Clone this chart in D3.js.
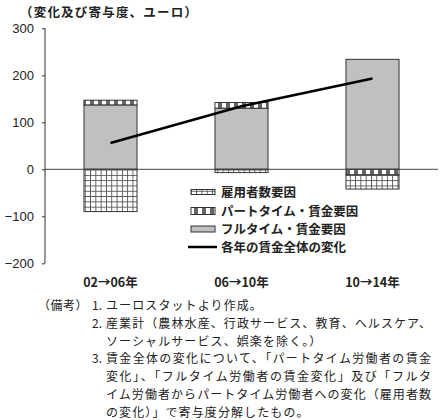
<!DOCTYPE html>
<html><head><meta charset="utf-8">
<script src="https://cdn.jsdelivr.net/npm/d3@7"></script>
<style>body{margin:0;background:#fff}svg{display:block}</style>
</head><body>
<script>
const categories = ["02→06年", "06→10年", "10→14年"];
const fullTime = [137, 130, 234];
const partTime = [10, 12, -12];
const employment = [-90, -7, -30];
const totalChange = [56, 134, 193];
const yTicks = [300, 200, 100, 0, -100, -200];
const legendLabels = ["雇用者数要因", "パートタイム・賃金要因", "フルタイム・賃金要因", "各年の賃金全体の変化"];
const titleText = "（変化及び寄与度、ユーロ）";
const notes = [
  {lead: "（備考）", num: "1.", text: "ユーロスタットより作成。", full: false},
  {lead: "", num: "2.", text: "産業計（農林水産、行政サービス、教育、ヘルスケア、", full: true},
  {lead: "", num: "", text: "ソーシャルサービス、娯楽を除く。）", full: false},
  {lead: "", num: "3.", text: "賃金全体の変化について、「パートタイム労働者の賃金", full: true},
  {lead: "", num: "", text: "変化」、「フルタイム労働者の賃金変化」及び「フルタ", full: true},
  {lead: "", num: "", text: "イム労働者からパートタイム労働者への変化（雇用者数", full: true},
  {lead: "", num: "", text: "の変化）」で寄与度分解したもの。", full: false}
];

const W = 442, H = 420;
const svg = d3.select("body").append("svg").attr("width", W).attr("height", H);
const defs = svg.append("defs");
const pg = defs.append("pattern").attr("id","grid").attr("patternUnits","userSpaceOnUse")
  .attr("width",5.3).attr("height",5.3);
pg.append("rect").attr("width",5.3).attr("height",5.3).attr("fill","#fff");
pg.append("path").attr("d","M0,0.4H5.3M0.4,0V5.3").attr("stroke","#555").attr("stroke-width",1);
const pp = defs.append("pattern").attr("id","part").attr("patternUnits","userSpaceOnUse")
  .attr("width",8).attr("height",3);
pp.append("rect").attr("width",8).attr("height",3).attr("fill","#fff");
pp.append("rect").attr("x",2).attr("width",4).attr("height",3).attr("fill","#666");

const font = "'Noto Sans CJK JP', sans-serif";
const y = d3.scaleLinear().domain([-200, 300]).range([263.3, 28.3]);
const x = d3.scaleBand().domain(categories).range([45, 438]).paddingInner(0.595).paddingOuter(0.2975);

svg.append("text").attr("x", 20).attr("y", 17).attr("font-family", font).attr("font-size", 12.5)
  .attr("font-weight", "bold").attr("fill", "#222").attr("letter-spacing", 1.2).text(titleText);

const yAxis = svg.append("g").attr("transform", "translate(45,0)")
  .call(d3.axisLeft(y).tickValues(yTicks).tickSize(3).tickFormat(d3.format("d")));
yAxis.select(".domain").attr("stroke", "#333").attr("d", `M0,${y(300)}V${y(-200)}`);
yAxis.selectAll(".tick line").attr("stroke", "#333");
yAxis.selectAll(".tick text").attr("font-family", "'Liberation Sans', Arial, sans-serif")
  .attr("font-size", 13).attr("fill", "#222").attr("x", -11).text(d => d < 0 ? "−" + Math.abs(d) : d);

const segs = [];
categories.forEach((c, i) => {
  let pos = 0, neg = 0;
  [[fullTime[i], "full"], [partTime[i], "part"], [employment[i], "emp"]].forEach(([v, k]) => {
    if (v >= 0) { segs.push({c, k, y0: pos, y1: pos + v}); pos += v; }
    else { segs.push({c, k, y0: neg + v, y1: neg}); neg += v; }
  });
});
const fillOf = {full: "#c0c0c0", part: "url(#part)", emp: "url(#grid)"};
svg.append("g").selectAll("rect").data(segs.filter(s => s.y1 !== s.y0)).join("rect")
  .attr("x", d => x(d.c)).attr("width", x.bandwidth())
  .attr("y", d => y(d.y1)).attr("height", d => y(d.y0) - y(d.y1))
  .attr("fill", d => fillOf[d.k]).attr("stroke", "#333").attr("stroke-width", 1);

svg.append("line").attr("x1", 45).attr("x2", 438).attr("y1", y(0)).attr("y2", y(0))
  .attr("stroke", "#444").attr("stroke-width", 1);

svg.append("path").datum(totalChange)
  .attr("d", d3.line().x((d, i) => x(categories[i]) + x.bandwidth() / 2).y(d => y(d)))
  .attr("fill", "none").attr("stroke", "#000").attr("stroke-width", 2.5);

svg.append("g").selectAll("text").data(categories).join("text")
  .attr("x", d => x(d) + x.bandwidth() / 2).attr("y", 287).attr("text-anchor", "middle")
  .attr("font-family", font).attr("font-size", 12.5).attr("font-weight", "bold").attr("fill", "#222").text(d => d);

const lg = svg.append("g");
const ly = [192, 211, 229, 247];
lg.append("rect").attr("x", 191).attr("y", ly[0] - 2.5).attr("width", 24).attr("height", 5)
  .attr("fill", "url(#grid)").attr("stroke", "#333");
lg.append("rect").attr("x", 191).attr("y", ly[1] - 3.5).attr("width", 24).attr("height", 7)
  .attr("fill", "url(#part)").attr("stroke", "#333");
lg.append("rect").attr("x", 191).attr("y", ly[2] - 3).attr("width", 24).attr("height", 6)
  .attr("fill", "#c0c0c0").attr("stroke", "#333");
lg.append("line").attr("x1", 188).attr("x2", 217).attr("y1", ly[3]).attr("y2", ly[3])
  .attr("stroke", "#000").attr("stroke-width", 2.5);
lg.selectAll("text").data(legendLabels).join("text")
  .attr("x", 221).attr("y", (d, i) => ly[i] + 4.5)
  .attr("font-family", font).attr("font-size", 12.5).attr("font-weight", "bold").attr("fill", "#222").text(d => d);

const ng = svg.append("g").attr("font-family", font).attr("font-size", 12).attr("fill", "#222");
notes.forEach((n, i) => {
  const yy = 310 + i * 17.8;
  if (n.lead) ng.append("text").attr("x", 38).attr("y", yy).attr("letter-spacing", 0.5).text(n.lead);
  if (n.num) ng.append("text").attr("x", 92).attr("y", yy).text(n.num);
  const t = ng.append("text").attr("x", 106).attr("y", yy).text(n.text);
  if (n.full) t.attr("textLength", 325).attr("lengthAdjust", "spacing");
  else t.attr("letter-spacing", 1.1);
});
</script>
</body></html>
